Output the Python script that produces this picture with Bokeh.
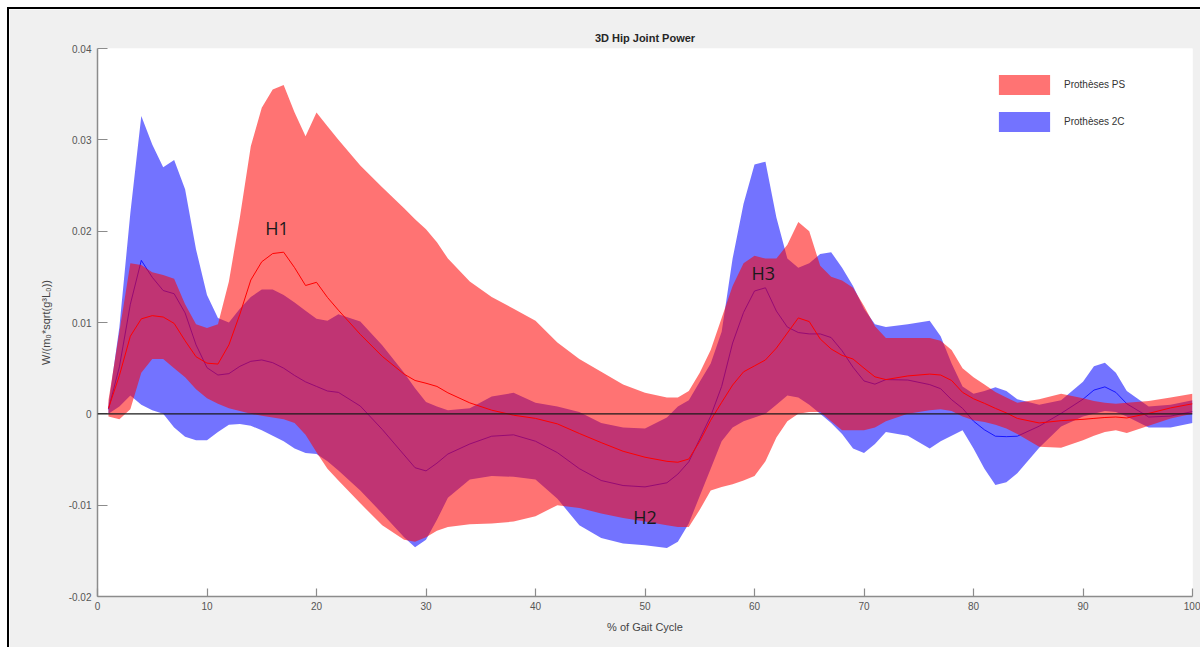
import numpy as np
from bokeh.plotting import figure
from bokeh.models import (Span, Legend, LegendItem, FixedTicker,
                          CustomJSTickFormatter, Label)
from bokeh.embed import file_html
from bokeh.resources import INLINE

# % of gait cycle
gait_pct = [1, 2, 3, 4, 5, 6, 7, 8, 9, 10, 11, 12, 13, 14, 15, 16, 17, 18, 19, 20,
            21, 22, 24, 26, 28, 29, 30, 31, 32, 34, 36, 38, 40, 42, 44, 46, 48, 50,
            52, 53, 54, 55, 56, 57, 58, 59, 60, 61, 62, 63, 64, 65, 66, 67, 68, 69,
            70, 71, 72, 74, 76, 77, 78, 79, 80, 81, 82, 83, 84, 86, 88, 90, 91, 92,
            93, 94, 96, 98, 100]

# Band limits (mean +/- SD), in units of 1e-3 W/(m0*sqrt(g^3 L0))
ps_upper = [1.5, 9.0, 16.5, 16.3, 15.5, 15.2, 14.8, 12.0, 9.8, 9.4, 9.8, 14.5, 21.5,
            29.3, 33.5, 35.5, 36.0, 33.0, 30.4, 33.0, 31.5, 30.0, 27.2, 24.8, 22.5,
            21.3, 20.2, 18.8, 17.0, 14.5, 12.8, 11.5, 10.2, 7.8, 6.0, 4.6, 3.2, 2.3,
            1.8, 1.8, 2.5, 4.5, 7.0, 10.5, 14.0, 16.5, 17.3, 17.0, 17.0, 18.5, 21.0,
            20.0, 16.2, 15.0, 14.6, 13.8, 11.8, 9.6, 8.3, 8.3, 8.3, 8.0, 7.0, 5.0,
            4.0, 3.2, 2.4, 1.8, 1.2, 1.6, 2.2, 1.7, 1.4, 1.2, 1.1, 1.2, 1.4, 1.8, 2.2]
ps_lower = [-0.3, -0.6, 0.5, 4.5, 6.0, 6.0, 5.0, 4.0, 2.7, 1.7, 1.1, 0.6, 0.3, 0.0,
            -0.2, -0.4, -0.6, -1.0, -2.3, -4.2, -6.0, -7.3, -9.8, -12.2, -13.8, -14.0,
            -13.5, -12.8, -12.4, -12.1, -12.0, -11.8, -11.2, -10.0, -10.3, -10.9,
            -11.4, -11.8, -12.2, -12.4, -12.4, -10.5, -8.4, -8.0, -7.7, -7.3, -6.8,
            -5.2, -2.6, -0.8, 0.0, 0.2, 0.2, -0.8, -1.8, -1.8, -1.8, -1.5, -0.8, 0.0,
            0.4, 0.5, 0.3, -0.3, -0.7, -0.9, -1.2, -1.6, -2.2, -3.6, -3.7, -2.9, -2.4,
            -2.0, -1.8, -2.1, -1.3, -0.5, 0.0]
c2_upper = [1.0, 9.5, 22.0, 32.6, 29.5, 27.0, 27.8, 24.6, 18.0, 13.0, 10.5, 10.0, 11.5,
            12.8, 13.6, 13.6, 13.0, 12.2, 11.3, 10.4, 10.2, 10.9, 10.1, 7.5, 4.5, 2.8,
            1.3, 0.8, 0.4, 0.6, 1.9, 2.3, 1.2, 0.8, 0.2, -1.0, -1.5, -1.6, -0.4, 0.8,
            1.5, 3.5, 5.5, 9.0, 17.0, 23.0, 27.3, 27.6, 21.5, 17.0, 16.0, 16.5, 17.5,
            17.7, 16.0, 14.0, 11.5, 9.8, 9.5, 9.8, 10.2, 8.5, 5.5, 3.0, 2.2, 2.5, 2.9,
            2.5, 1.6, 1.0, 1.5, 3.5, 5.2, 5.6, 4.5, 2.5, 0.8, 1.0, 1.5]
c2_lower = [0.0, 0.8, 2.0, 1.0, 0.4, 0.0, -1.5, -2.5, -2.9, -2.9, -2.0, -1.2, -1.1,
            -1.3, -1.8, -2.4, -3.0, -3.8, -4.3, -4.4, -5.2, -6.2, -8.4, -10.9, -13.5,
            -14.6, -13.8, -11.6, -9.2, -7.2, -6.8, -6.9, -7.2, -9.3, -12.2, -13.6,
            -14.2, -14.4, -14.7, -14.0, -12.0, -9.0, -6.0, -3.0, -1.5, -0.8, -0.4, 0.0,
            1.0, 2.0, 1.8, 1.0, 0.0, -1.0, -2.2, -3.8, -4.3, -3.3, -2.0, -2.4, -3.8,
            -3.0, -2.4, -1.8, -3.8, -6.0, -7.8, -7.5, -6.5, -3.7, -1.4, -0.3, 0.0, 0.3,
            0.2, -0.3, -1.5, -1.5, -1.0]

series_names = ["Prothèses PS", "Prothèses 2C"]
peak_names = ["H1", "H2", "H3"]
peak_pct = [16.4, 50.0, 60.8]
peak_val = [0.0204, -0.0113, 0.0154]
y_ticks = [-0.02, -0.01, 0, 0.01, 0.02, 0.03, 0.04]
x_ticks = [0, 10, 20, 30, 40, 50, 60, 70, 80, 90, 100]

x = np.array(gait_pct, dtype=float)
ps_hi = np.array(ps_upper) * 1e-3
ps_lo = np.array(ps_lower) * 1e-3
c2_hi = np.array(c2_upper) * 1e-3
c2_lo = np.array(c2_lower) * 1e-3
ps_mean = (ps_hi + ps_lo) / 2
c2_mean = (c2_hi + c2_lo) / 2

FONT = "Liberation Sans"

p = figure(width=1193, height=640, x_range=(0, 100), y_range=(-0.02, 0.04),
           output_backend="svg", toolbar_location=None, title="3D Hip Joint Power",
           min_border_left=88, min_border_right=10, min_border_top=39,
           min_border_bottom=53, background_fill_color="white",
           border_fill_color="#f0f0f0", outline_line_color=None)
p.margin = (7, 0, 0, 7)
p.styles = {"border-left": "2px solid black", "border-top": "2px solid black"}

p.title.align = "center"
p.title.text_font = FONT
p.title.text_font_size = "11px"
p.title.text_font_style = "bold"
p.title.text_color = "#262626"
p.title.standoff = 10

p.xgrid.visible = False
p.ygrid.visible = False

for ax in (p.xaxis[0], p.yaxis[0]):
    ax.axis_line_color = "#8c8c8c"
    ax.axis_line_width = 1.5
    ax.major_tick_line_color = "#8c8c8c"
    ax.major_tick_line_width = 1.2
    ax.major_tick_out = 0
    ax.minor_tick_in = 0
    ax.minor_tick_out = 0
    ax.major_label_text_font = FONT
    ax.major_label_text_font_size = "10px"
    ax.major_label_text_color = "#555555"
    ax.axis_label_text_font = FONT
    ax.axis_label_text_font_size = "11px"
    ax.axis_label_text_font_style = "normal"
    ax.axis_label_text_color = "#444444"

p.yaxis.ticker = FixedTicker(ticks=y_ticks)
p.yaxis.formatter = CustomJSTickFormatter(code="return tick === 0 ? '0' : tick.toFixed(2);")
p.yaxis.major_tick_in = 10
p.yaxis.major_label_standoff = 6
p.yaxis.axis_label = "W/(m\u2080*sqrt(g\u00b3L\u2080))"
p.yaxis.axis_label_standoff = 14

p.xaxis.ticker = FixedTicker(ticks=x_ticks)
p.xaxis.major_tick_in = 8
p.xaxis.major_label_standoff = 5
p.xaxis.axis_label = "% of Gait Cycle"
p.xaxis.axis_label_standoff = 8

# 2C band and mean first, PS band drawn over it
c2_band = p.varea(x=x, y1=c2_lo, y2=c2_hi, fill_color="#0000ff", fill_alpha=0.55)
p.line(x, c2_mean, line_color="#0000ff", line_width=1.0, line_alpha=0.8)
ps_band = p.varea(x=x, y1=ps_lo, y2=ps_hi, fill_color="#ff0000", fill_alpha=0.55)
p.line(x, ps_mean, line_color="#ff0000", line_width=1.0)

p.add_layout(Span(location=0, dimension="width", line_color="#1a1a1a", line_width=1.2))

for name, px, py in zip(peak_names, peak_pct, peak_val):
    p.add_layout(Label(x=px, y=py, text=name, text_align="center",
                       text_baseline="middle", text_font="Open Sans",
                       text_font_size="18px", text_color="#1a1a1a"))

legend = Legend(items=[LegendItem(label=series_names[0], renderers=[ps_band]),
                       LegendItem(label=series_names[1], renderers=[c2_band])],
                location=(895, 462), glyph_width=64, glyph_height=25,
                label_height=25, spacing=12, padding=0, margin=0,
                label_standoff=8, background_fill_alpha=0, border_line_alpha=0,
                label_text_font=FONT, label_text_font_size="10px",
                label_text_color="#333333")
p.add_layout(legend)

open("out.html", "w").write(file_html(p, INLINE))
